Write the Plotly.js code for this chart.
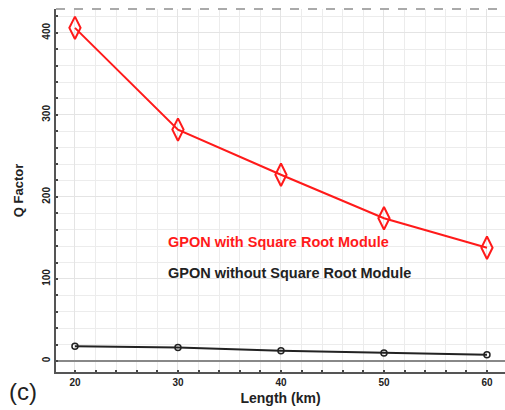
<!DOCTYPE html>
<html>
<head>
<meta charset="utf-8">
<script src="https://cdn.plot.ly/plotly-3.0.1.min.js"></script>
<style>html,body{margin:0;padding:0;background:#fff;}#chart{width:505px;height:410px;}</style>
</head>
<body>
<div id="chart"></div>
<script>
const lengthKm = [20, 30, 40, 50, 60];
const qWithModule = [406, 282, 227, 174, 138];
const qWithoutModule = [18, 16.6, 12.6, 9.8, 7.7];
const seriesNames = ["GPON with Square Root Module", "GPON without Square Root Module"];
const xTicks = [20, 30, 40, 50, 60];
const yTicks = [0, 100, 200, 300, 400];

const font = "Liberation Sans, Arial, sans-serif";

const traces = [
  {
    x: lengthKm, y: qWithModule, name: seriesNames[0], type: "scatter", mode: "lines+markers",
    line: {color: "#ff1a1a", width: 2},
    marker: {symbol: "diamond-tall-open", size: 16, color: "#ff1a1a", line: {width: 2, color: "#ff1a1a"}}
  },
  {
    x: lengthKm, y: qWithoutModule, name: seriesNames[1], type: "scatter", mode: "lines+markers",
    line: {color: "#222", width: 2},
    marker: {symbol: "circle-open", size: 6, color: "#222", line: {width: 1.5, color: "#222"}}
  }
];

const layout = {
  width: 505, height: 410,
  margin: {l: 56, r: 0, t: 9, b: 38},
  paper_bgcolor: "#fff", plot_bgcolor: "#fff",
  showlegend: false,
  font: {family: font, color: "#222"},
  xaxis: {
    range: [18.16, 61.75],
    tickvals: xTicks, ticktext: xTicks.map(String),
    tickfont: {size: 10, family: font, weight: "bold", color: "#222"},
    ticks: "", showgrid: true, gridcolor: "#e4e4e4", gridwidth: 1,
    minor: {dtick: 2, tick0: 0, showgrid: true, gridcolor: "#ececec", ticks: "inside", ticklen: 2, tickwidth: 2, tickcolor: "#444"},
    showline: true, linecolor: "#555", linewidth: 2,
    zeroline: false,
    title: {text: "Length (km)", font: {size: 14, family: font, weight: "bold", color: "#222"}, standoff: 6}
  },
  yaxis: {
    range: [-13.4, 429],
    tickvals: yTicks, ticktext: yTicks.map(String),
    tickangle: -90,
    tickfont: {size: 10, family: font, weight: "bold", color: "#222"},
    ticks: "", showgrid: true, gridcolor: "#e4e4e4", gridwidth: 1,
    minor: {dtick: 20, tick0: 0, showgrid: true, gridcolor: "#ececec", ticks: "inside", ticklen: 2, tickwidth: 2, tickcolor: "#444"},
    showline: true, linecolor: "#555", linewidth: 2,
    zeroline: true, zerolinecolor: "#888", zerolinewidth: 1.5,
    title: {text: "Q Factor", font: {size: 13, family: font, weight: "bold", color: "#222"}, standoff: 14}
  },
  shapes: [
    {type: "line", xref: "paper", yref: "paper", x0: 0, x1: 1, y0: 1, y1: 1,
     line: {color: "#aaa", width: 2, dash: "dash"}}
  ],
  annotations: [
    {text: seriesNames[0], xref: "paper", yref: "paper", x: 0.245, y: 0.358, xanchor: "left", yanchor: "middle",
     showarrow: false, font: {size: 14.5, family: font, weight: "bold", color: "#ff1a1a"}},
    {text: seriesNames[1], xref: "paper", yref: "paper", x: 0.245, y: 0.273, xanchor: "left", yanchor: "middle",
     showarrow: false, font: {size: 14.5, family: font, weight: "bold", color: "#222"}},
    {text: "(c)", xref: "paper", yref: "paper", x: -0.0746, y: -0.055, xanchor: "center", yanchor: "middle",
     showarrow: false, font: {size: 24, family: font, color: "#222"}}
  ]
};

Plotly.newPlot("chart", traces, layout, {displayModeBar: false, staticPlot: true});
</script>
</body>
</html>
